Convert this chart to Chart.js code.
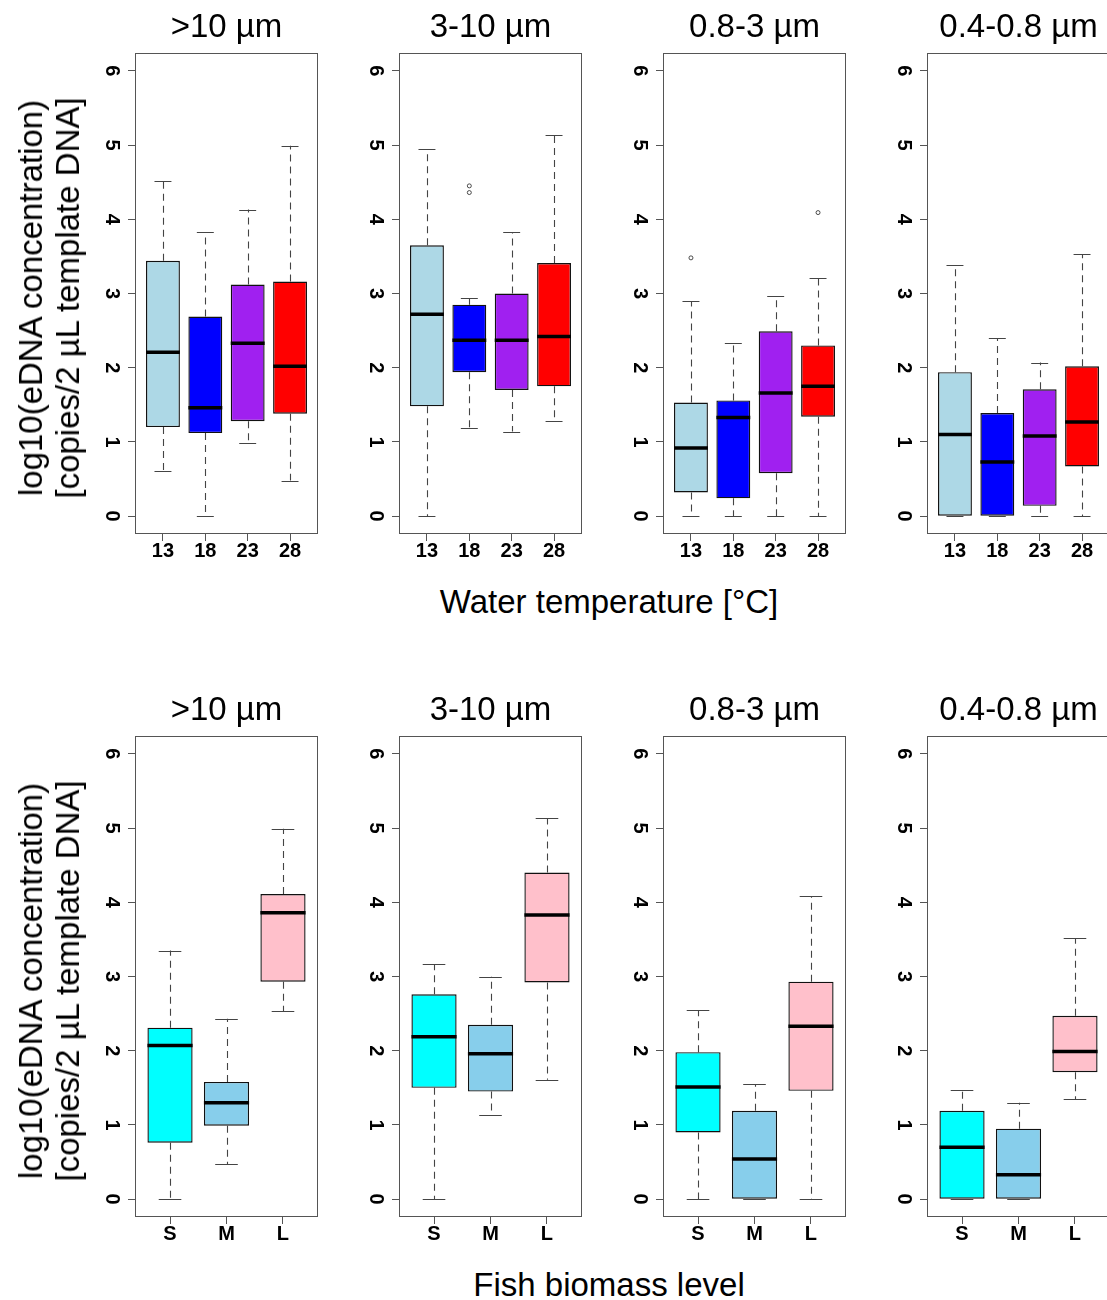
<!DOCTYPE html>
<html>
<head>
<meta charset="utf-8">
<script src="https://cdn.jsdelivr.net/npm/chart.js@4/dist/chart.umd.min.js"></script>
<style>
html,body{margin:0;padding:0;background:#fff;width:1107px;height:1300px;overflow:hidden;position:relative;font-family:"Liberation Sans",Arial,sans-serif;}
canvas{position:absolute;}
.t{position:absolute;white-space:nowrap;color:#000;text-align:center;transform:translate(-50%,-50%);line-height:1;z-index:2;}
.ylab{position:absolute;white-space:nowrap;text-align:center;color:#000;line-height:37px;font-size:33px;transform:translate(-50%,-50%) rotate(-90deg);z-index:2;}
</style>
</head>
<body>
<script>
// ---------------- DATA ----------------
const sizeFractions = ['>10 µm', '3-10 µm', '0.8-3 µm', '0.4-0.8 µm'];
const temperatures = ['13', '18', '23', '28'];
const biomassLevels = ['S', 'M', 'L'];
const yTickValues = [0, 1, 2, 3, 4, 5, 6];
const yAxisTitle = ['log10(eDNA concentration)', '[copies/2 µL template DNA]'];
const tempAxisTitle = 'Water temperature [°C]';
const biomassAxisTitle = 'Fish biomass level';

// five-number summaries per group: [lower whisker, Q1, median, Q3, upper whisker]
const tempGt10   = [[0.61, 1.20, 2.21, 3.44, 4.52], [0.00, 1.12, 1.46, 2.69, 3.83], [0.98, 1.28, 2.33, 3.12, 4.13], [0.48, 1.38, 2.02, 3.16, 4.99]];
const temp3to10  = [[0.00, 1.48, 2.72, 3.65, 4.94], [1.19, 1.94, 2.37, 2.85, 2.94], [1.14, 1.70, 2.37, 3.00, 3.83], [1.28, 1.75, 2.42, 3.41, 5.14]];
const temp08to3  = [[0.00, 0.32, 0.92, 1.53, 2.90], [0.00, 0.24, 1.33, 1.56, 2.33], [0.00, 0.58, 1.66, 2.49, 2.97], [0.00, 1.34, 1.75, 2.30, 3.21]];
const temp04to08 = [[0.00, 0.00, 1.10, 1.94, 3.38], [0.00, 0.00, 0.73, 1.39, 2.40], [0.00, 0.14, 1.08, 1.71, 2.07], [0.00, 0.67, 1.27, 2.02, 3.53]];

const bioGt10   = [[0.00, 0.76, 2.07, 2.31, 3.35], [0.47, 0.99, 1.30, 1.58, 2.43], [2.53, 2.93, 3.86, 4.11, 4.99]];
const bio3to10  = [[0.00, 1.50, 2.19, 2.76, 3.17], [1.14, 1.45, 1.96, 2.35, 3.00], [1.61, 2.92, 3.83, 4.40, 5.13]];
const bio08to3  = [[0.00, 0.90, 1.51, 1.98, 2.55], [0.00, 0.00, 0.54, 1.19, 1.55], [0.00, 1.46, 2.33, 2.93, 4.08]];
const bio04to08 = [[0.00, 0.00, 0.70, 1.19, 1.47], [0.00, 0.00, 0.33, 0.95, 1.30], [1.35, 1.71, 1.99, 2.47, 3.52]];

// outliers per group
const tempOutGt10   = [[], [], [], []];
const tempOut3to10  = [[], [4.36, 4.45], [], []];
const tempOut08to3  = [[3.48], [], [], [4.09]];
const tempOut04to08 = [[], [], [], []];
const bioOutGt10   = [[], [], []];
const bioOut3to10  = [[], [], []];
const bioOut08to3  = [[], [], []];
const bioOut04to08 = [[], [], []];

// ---------------- STYLE / LAYOUT ----------------
const temperatureColors = ['#ADD8E6', '#0000FF', '#A020F0', '#FF0000'];
const biomassColors = ['#00FFFF', '#87CEEB', '#FFC0CB'];
const FONT = '"Liberation Sans", Arial, sans-serif';
const panelLefts = [135, 399, 663, 927];
const PW = 183, PH = 481;           // plot area size
const PADL = 60, PADR = 8, PADT = 30, XH = 40;

const rows = [
  {plotTop: 53, cats: temperatures, colors: temperatureColors,
   stats: [tempGt10, temp3to10, temp08to3, temp04to08],
   outliers: [tempOutGt10, tempOut3to10, tempOut08to3, tempOut04to08],
   xTitle: tempAxisTitle},
  {plotTop: 736, cats: biomassLevels, colors: biomassColors,
   stats: [bioGt10, bio3to10, bio08to3, bio04to08],
   outliers: [bioOutGt10, bioOut3to10, bioOut08to3, bioOut04to08],
   xTitle: biomassAxisTitle}
];

const boxExtras = {
  id: 'boxExtras',
  beforeDatasetsDraw(chart, args, opts) {
    const xs = chart.scales.x, ys = chart.scales.y, ctx = chart.ctx;
    ctx.save();
    ctx.strokeStyle = '#444';
    ctx.lineWidth = 1.1;
    opts.stats.forEach((s, i) => {
      const x = Math.round(xs.getPixelForValue(i + 1)) + 0.5;
      const yMin = ys.getPixelForValue(s[0]), yQ1 = ys.getPixelForValue(s[1]);
      const yQ3 = ys.getPixelForValue(s[3]), yMax = ys.getPixelForValue(s[4]);
      ctx.setLineDash([7, 5]);
      ctx.beginPath();
      ctx.moveTo(x, yQ3); ctx.lineTo(x, yMax);
      ctx.moveTo(x, yQ1); ctx.lineTo(x, yMin);
      ctx.stroke();
      ctx.setLineDash([]);
      const xl = xs.getPixelForValue(i + 1 - 0.2), xr = xs.getPixelForValue(i + 1 + 0.2);
      ctx.beginPath();
      ctx.moveTo(xl, Math.round(yMax) + 0.5); ctx.lineTo(xr, Math.round(yMax) + 0.5);
      ctx.moveTo(xl, Math.round(yMin) + 0.5); ctx.lineTo(xr, Math.round(yMin) + 0.5);
      ctx.stroke();
    });
    ctx.restore();
  },
  afterDatasetsDraw(chart, args, opts) {
    const xs = chart.scales.x, ys = chart.scales.y, ctx = chart.ctx;
    ctx.save();
    ctx.strokeStyle = '#000';
    ctx.lineWidth = 3.5;
    ctx.lineCap = 'butt';
    opts.stats.forEach((s, i) => {
      const y = ys.getPixelForValue(s[2]);
      ctx.beginPath();
      ctx.moveTo(xs.getPixelForValue(i + 1 - 0.4), y);
      ctx.lineTo(xs.getPixelForValue(i + 1 + 0.4), y);
      ctx.stroke();
    });
    const a = chart.chartArea;
    ctx.strokeStyle = '#555';
    ctx.lineWidth = 1;
    ctx.strokeRect(a.left + 0.5, a.top + 0.5, a.right - a.left - 1, a.bottom - a.top - 1);
    ctx.restore();
  }
};

function addText(cls, text, cx, cy, size, extra) {
  const d = document.createElement('div');
  d.className = cls;
  if (Array.isArray(text)) {
    text.forEach((t, k) => { if (k) d.appendChild(document.createElement('br')); d.appendChild(document.createTextNode(t)); });
  } else d.textContent = text;
  d.style.left = cx + 'px';
  d.style.top = cy + 'px';
  if (size) d.style.fontSize = size + 'px';
  if (extra) Object.assign(d.style, extra);
  document.body.appendChild(d);
}

function makePanel(row, p) {
  const canvas = document.createElement('canvas');
  canvas.width = PADL + PW + PADR;
  canvas.height = PADT + PH + XH;
  canvas.style.left = (panelLefts[p] - PADL) + 'px';
  canvas.style.top = (row.plotTop - PADT) + 'px';
  document.body.appendChild(canvas);
  const stats = row.stats[p];
  const n = row.cats.length;
  const outPts = [];
  row.outliers[p].forEach((arr, i) => arr.forEach(v => outPts.push({x: i + 1, y: v})));
  new Chart(canvas, {
    type: 'bar',
    data: {
      datasets: [{
        type: 'bar',
        data: stats.map((s, i) => ({x: i + 1, y: [s[1], s[3]]})),
        backgroundColor: row.colors,
        borderColor: '#111',
        borderWidth: 1.4,
        borderSkipped: false,
        barPercentage: 0.8,
        categoryPercentage: 1.0
      }, {
        type: 'scatter',
        data: outPts,
        pointRadius: 2,
        pointBorderWidth: 0.8,
        borderColor: '#222',
        backgroundColor: 'rgba(0,0,0,0)'
      }]
    },
    options: {
      responsive: false,
      animation: false,
      devicePixelRatio: 1,
      layout: {padding: {left: 0, right: PADR, top: PADT, bottom: 0}},
      plugins: {legend: {display: false}, tooltip: {enabled: false}, title: {display: false},
                boxExtras: {stats: stats}},
      scales: {
        x: {
          type: 'linear', bounds: 'data', offset: false,
          min: 0.5 - 0.04 * n, max: n + 0.5 + 0.04 * n,
          afterBuildTicks: s => { s.ticks = row.cats.map((c, i) => ({value: i + 1})); },
          afterFit: s => { s.height = XH; },
          ticks: {callback: v => row.cats[Math.round(v) - 1] ?? '', autoSkip: false, maxRotation: 0, minRotation: 0,
                  padding: 0, color: '#000', font: {family: FONT, size: 20, weight: 'bold', lineHeight: 1}},
          grid: {display: true, drawOnChartArea: false, drawTicks: true, tickLength: 7, color: '#555', offset: false},
          border: {display: false}
        },
        y: {
          type: 'linear', bounds: 'data',
          min: -0.24, max: 6.24,
          afterBuildTicks: s => { s.ticks = yTickValues.map(v => ({value: v})); },
          afterFit: s => { s.width = PADL; },
          ticks: {callback: v => String(v), autoSkip: false, minRotation: -90, maxRotation: -90, crossAlign: 'center',
                  padding: 11, color: '#000', font: {family: FONT, size: 20, weight: 'bold', lineHeight: 1}},
          grid: {display: true, drawOnChartArea: false, drawTicks: true, tickLength: 7, color: '#555'},
          border: {display: false}
        }
      }
    },
    plugins: [boxExtras]
  });
  addText('t', sizeFractions[p], panelLefts[p] + PW / 2, row.plotTop - 28, 33);
}

rows.forEach(row => {
  for (let p = 0; p < 4; p++) makePanel(row, p);
  addText('ylab', yAxisTitle, 49, row.plotTop + PH / 2 + 4, 33);
  addText('t', row.xTitle, 609, row.plotTop + PH + 67, 33);
});
</script>
</body>
</html>
